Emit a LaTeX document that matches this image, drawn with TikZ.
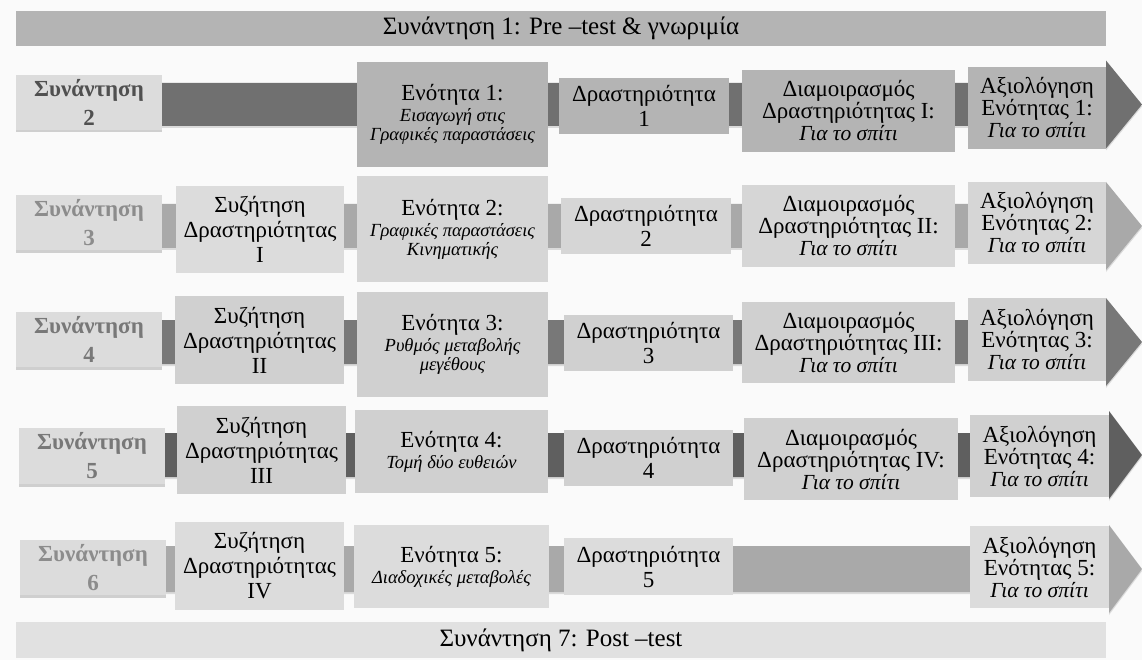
\documentclass[tikz,border=0pt]{standalone}
\usepackage{fontspec}
\setmainfont{Liberation Serif}
\usetikzlibrary{shadows}

\definecolor{bgc}{HTML}{FAFAFA}
\definecolor{banA}{HTML}{B4B4B4}
\definecolor{banB}{HTML}{E1E1E1}
\definecolor{meetc}{HTML}{DCDCDC}
\definecolor{boxA}{HTML}{B4B4B4}
\definecolor{boxB}{HTML}{D6D6D6}
\definecolor{boxC}{HTML}{D0D0D0}
\definecolor{boxD}{HTML}{DCDCDC}
\definecolor{barA}{HTML}{707070}
\definecolor{barB}{HTML}{A9A9A9}
\definecolor{barC}{HTML}{787878}
\definecolor{barD}{HTML}{5F5F5F}
\definecolor{txtA}{HTML}{505050}
\definecolor{txtB}{HTML}{8C8C8C}
\definecolor{txtC}{HTML}{787878}

\newcommand{\subit}[1]{{\fontsize{18.5}{20}\selectfont\itshape #1}}
\newcommand{\home}{{\fontsize{21.5}{24}\selectfont\itshape Για το σπίτι}}

\begin{document}
\begin{tikzpicture}[x=1pt,y=1pt,yscale=-1,
  blk/.style={fill=#1,anchor=north west,inner sep=0pt,outer sep=0pt,align=center,text=black,font=\fontsize{23}{25}\selectfont},
  meet/.style={blk=meetc,text=#1,font=\fontsize{23}{29}\selectfont\bfseries,drop shadow={opacity=0.35,shadow xshift=0pt,shadow yshift=-2.5pt}},
  band/.style={fill=#1,drop shadow={opacity=0.25,shadow xshift=0pt,shadow yshift=-2pt}}]
\useasboundingbox (0,0) rectangle (1142,660);
\fill[bgc] (0,0) rectangle (1142,660);

%Shape: Arrow row 1
\path[band=barA] (160,83) -- (1106,83) -- (1106,60.5) -- (1142,104.5) -- (1106,148.5) -- (1106,126) -- (160,126) -- cycle ;
%Shape: Arrow row 2
\path[band=barB] (160,204) -- (1106,204) -- (1106,182) -- (1142,226) -- (1106,270) -- (1106,248) -- (160,248) -- cycle ;
%Shape: Arrow row 3
\path[band=barC] (160,320) -- (1106,320) -- (1106,298) -- (1142,342) -- (1106,386) -- (1106,364) -- (160,364) -- cycle ;
%Shape: Arrow row 4
\path[band=barD] (163,433) -- (1109,433) -- (1109,411) -- (1142,455) -- (1109,499) -- (1109,477) -- (163,477) -- cycle ;
%Shape: Arrow row 5
\path[band=barB] (164,546) -- (1109,546) -- (1109,525) -- (1142,569) -- (1109,613) -- (1109,592) -- (164,592) -- cycle ;

% Banners
\node[blk=banA,minimum width=1090pt,minimum height=35pt,font=\fontsize{25}{28}\selectfont] (s1) at (16,10.7) {Συνάντηση 1: Pre –test \& γνωριμία};
\node[blk=banB,minimum width=1090pt,minimum height=36pt,font=\fontsize{25}{28}\selectfont] (s7) at (16,622) {Συνάντηση 7: Post –test};

% Row 1
\node[meet=txtA,minimum width=146pt,minimum height=55pt] (m2) at (16,75) {Συνάντηση\\2};
\node[blk=boxA,minimum width=191pt,minimum height=105pt] (e1) at (357,62) {Ενότητα 1:\\[-4pt]\subit{Εισαγωγή στις}\\[-6pt]\subit{Γραφικές παραστάσεις}};
\node[blk=boxA,minimum width=170pt,minimum height=56pt] (d1) at (559,78) {Δραστηριότητα\\1};
\node[blk=boxA,minimum width=213pt,minimum height=82pt] (h1) at (742,70) {Διαμοιρασμός\\[-3pt]Δραστηριότητας I:\\[-3pt]\home};
\node[blk=boxA,minimum width=138pt,minimum height=82pt] (a1) at (968,67) {Αξιολόγηση\\[-3pt]Ενότητας 1:\\[-3pt]\home};

% Row 2
\node[meet=txtB,minimum width=146pt,minimum height=55pt] (m3) at (16,195) {Συνάντηση\\3};
\node[blk=boxD,minimum width=168pt,minimum height=87pt] (z1) at (176,186) {Συζήτηση\\Δραστηριότητας\\I};
\node[blk=boxB,minimum width=191pt,minimum height=106pt] (e2) at (357,176) {Ενότητα 2:\\[-4pt]\subit{Γραφικές παραστάσεις}\\[-6pt]\subit{Κινηματικής}};
\node[blk=boxB,minimum width=170pt,minimum height=56pt] (d2) at (561,198) {Δραστηριότητα\\2};
\node[blk=boxB,minimum width=213pt,minimum height=82pt] (h2) at (742,185) {Διαμοιρασμός\\[-3pt]Δραστηριότητας II:\\[-3pt]\home};
\node[blk=boxB,minimum width=138pt,minimum height=82pt] (a2) at (968,182) {Αξιολόγηση\\[-3pt]Ενότητας 2:\\[-3pt]\home};

% Row 3
\node[meet=txtC,minimum width=146pt,minimum height=55pt] (m4) at (16,312) {Συνάντηση\\4};
\node[blk=boxC,minimum width=169pt,minimum height=88pt] (z2) at (175,296) {Συζήτηση\\Δραστηριότητας\\II};
\node[blk=boxC,minimum width=191pt,minimum height=105pt] (e3) at (357,292) {Ενότητα 3:\\[-4pt]\subit{Ρυθμός μεταβολής}\\[-6pt]\subit{μεγέθους}};
\node[blk=boxC,minimum width=169pt,minimum height=56pt] (d3) at (564,315) {Δραστηριότητα\\3};
\node[blk=boxC,minimum width=213pt,minimum height=81pt] (h3) at (742,302) {Διαμοιρασμός\\[-3pt]Δραστηριότητας III:\\[-3pt]\home};
\node[blk=boxC,minimum width=138pt,minimum height=83pt] (a3) at (968,298) {Αξιολόγηση\\[-3pt]Ενότητας 3:\\[-3pt]\home};

% Row 4
\node[meet=txtC,minimum width=146pt,minimum height=56pt] (m5) at (19,428) {Συνάντηση\\5};
\node[blk=boxC,minimum width=169pt,minimum height=88pt] (z3) at (177,406) {Συζήτηση\\Δραστηριότητας\\III};
\node[blk=boxC,minimum width=193pt,minimum height=83pt] (e4) at (355,410) {Ενότητα 4:\\[-4pt]\subit{Τομή δύο ευθειών}};
\node[blk=boxC,minimum width=169pt,minimum height=56pt] (d4) at (564,430) {Δραστηριότητα\\4};
\node[blk=boxC,minimum width=214pt,minimum height=82pt] (h4) at (744,418) {Διαμοιρασμός\\[-3pt]Δραστηριότητας IV:\\[-3pt]\home};
\node[blk=boxC,minimum width=139pt,minimum height=82pt] (a4) at (970,415) {Αξιολόγηση\\[-3pt]Ενότητας 4:\\[-3pt]\home};

% Row 5
\node[meet=txtB,minimum width=146pt,minimum height=55pt] (m6) at (20,540) {Συνάντηση\\6};
\node[blk=boxD,minimum width=169pt,minimum height=88pt] (z4) at (175,522) {Συζήτηση\\Δραστηριότητας\\IV};
\node[blk=boxD,minimum width=195pt,minimum height=83pt] (e5) at (354,525) {Ενότητα 5:\\[-4pt]\subit{Διαδοχικές μεταβολές}};
\node[blk=boxD,minimum width=169pt,minimum height=57pt] (d5) at (564,538) {Δραστηριότητα\\5};
\node[blk=boxD,minimum width=139pt,minimum height=82pt] (a5) at (970,526) {Αξιολόγηση\\[-3pt]Ενότητας 5:\\[-3pt]\home};

\end{tikzpicture}
\end{document}
